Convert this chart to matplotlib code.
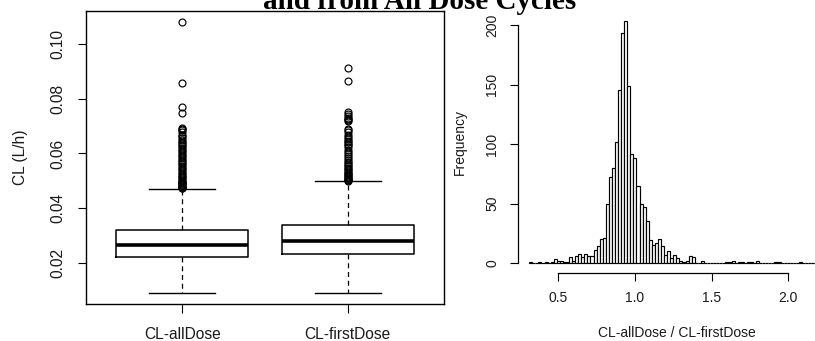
import numpy as np
import matplotlib
matplotlib.use("Agg")
import matplotlib.pyplot as plt

plt.rcParams['font.family'] = ['Liberation Sans', 'DejaVu Sans']

# box plot summaries (CL, L/h)
groups = ["CL-allDose", "CL-firstDose"]
med = [0.0266, 0.0281]
q1 = [0.0222, 0.0233]
q3 = [0.0320, 0.0341]
whis_lo = [0.0091, 0.0091]
whis_hi = [0.0470, 0.0499]
fliers_all = [0.1078, 0.0856, 0.0769, 0.0749, 0.0692, 0.0688, 0.0684, 0.0680,
              0.0668, 0.0662, 0.0655, 0.0648, 0.0642, 0.0638, 0.0632, 0.0626,
              0.0620, 0.0614, 0.0608, 0.0602, 0.0596, 0.0590, 0.0584, 0.0578,
              0.0572, 0.0566, 0.0560, 0.0555, 0.0548, 0.0542, 0.0536, 0.0530,
              0.0524, 0.0519, 0.0514, 0.0509, 0.0505, 0.0501, 0.0497, 0.0494,
              0.0491, 0.0488, 0.0485, 0.0482, 0.0479, 0.0477, 0.0475, 0.0473]
fliers_first = [0.0910, 0.0864, 0.0752, 0.0745, 0.0738, 0.0731, 0.0726, 0.0722,
                0.0718, 0.0690, 0.0684, 0.0678, 0.0668, 0.0660, 0.0652, 0.0646,
                0.0641, 0.0636, 0.0630, 0.0622, 0.0612, 0.0605, 0.0598, 0.0590,
                0.0582, 0.0576, 0.0570, 0.0564, 0.0558, 0.0553, 0.0548, 0.0543,
                0.0538, 0.0533, 0.0529, 0.0525, 0.0521, 0.0517, 0.0513, 0.0510,
                0.0507, 0.0504, 0.0502, 0.0500]

# histogram of CL-allDose / CL-firstDose, bins of 0.02 starting at 0.31
bin_start = 0.31
bin_width = 0.02
counts = [1, 0, 0, 1, 0, 1, 0, 1, 3, 2,
          2, 1, 1, 5, 2, 6, 8, 5, 8, 6,
          6, 11, 14, 20, 21, 50, 72, 80, 102, 146,
          194, 204, 149, 92, 88, 65, 50, 47, 35, 19,
          15, 17, 20, 14, 7, 10, 4, 7, 4, 2,
          1, 2, 6, 5, 0, 0, 2, 0, 0, 0,
          0, 0, 0, 0, 1, 1, 2, 0, 1, 1,
          0, 1, 1, 0, 2, 0, 0, 0, 0, 0,
          1, 1, 0, 0, 0, 0, 0, 0, 1, 0,
          0, 0, 0, 0]
hist_xticks = [0.5, 1.0, 1.5, 2.0]
hist_yticks = [0, 50, 100, 150, 200]

W, H = 815, 341
fig = plt.figure(figsize=(W / 100, H / 100), dpi=100)
txt = '#1a1a1a'
fs_left = 11.2
fs_right = 10

# ---- left: boxplot
ax1 = fig.add_axes([86 / W, 1 - 304 / H, 358 / W, 293 / H])
stats = []
for i in range(len(groups)):
    stats.append(dict(med=med[i], q1=q1[i], q3=q3[i], whislo=whis_lo[i],
                      whishi=whis_hi[i],
                      fliers=[fliers_all, fliers_first][i]))
ax1.bxp(stats, positions=[1, 2], widths=0.8, capwidths=0.4,
        boxprops=dict(color='black', lw=1.1),
        medianprops=dict(color='black', lw=2.6, solid_capstyle='butt'),
        whiskerprops=dict(color='black', lw=0.9, ls=(0, (4, 3))),
        capprops=dict(color='black', lw=1.0),
        flierprops=dict(marker='o', markerfacecolor='none', markeredgecolor='black',
                        markersize=5.0, markeredgewidth=0.85))
ax1.set_xlim(0.42, 2.58)
ax1.set_ylim(0.00517, 0.1119)
ax1.set_yticks([0.02, 0.04, 0.06, 0.08, 0.10])
ax1.set_yticklabels(['0.02', '0.04', '0.06', '0.08', '0.10'], rotation=90,
                    va='center', color=txt, fontsize=fs_left)
ax1.set_xticks([1, 2])
ax1.set_xticklabels(groups, color=txt, fontsize=fs_left)
ax1.tick_params(axis='y', length=6, width=0.8, pad=8.5)
ax1.tick_params(axis='x', length=6.5, width=0.8, pad=10)
for s in ax1.spines.values():
    s.set_linewidth(1.0)
fig.text(21 / W, 1 - 157 / H, 'CL (L/h)', rotation=90, ha='center', va='center',
         fontsize=fs_left, color=txt)

# ---- right: histogram
nb = len(counts)
edges = bin_start + bin_width * np.arange(nb + 1)
lo, hi = edges[0], edges[-1]
pad = 0.04 * (hi - lo)
x0 = 558.3 + (lo - pad - 0.5) * 153.3
x1 = 558.3 + (hi + pad - 0.5) * 153.3
ax2 = fig.add_axes([x0 / W, 1 - 272.7 / H, (x1 - x0) / W, 261.7 / H])
ax2.bar(edges[:-1], counts, width=bin_width, align='edge', facecolor='white',
        edgecolor='black', linewidth=0.85)
ax2.set_xlim(lo - pad, hi + pad)
ymax = max(counts)
ax2.set_ylim(-0.04 * ymax, 1.04 * ymax)
ax2.spines['top'].set_visible(False)
ax2.spines['right'].set_visible(False)
ax2.spines['left'].set_bounds(hist_yticks[0], hist_yticks[-1])
ax2.spines['bottom'].set_bounds(hist_xticks[0], hist_xticks[-1])
ax2.set_xticks(hist_xticks)
ax2.set_xticklabels(['0.5', '1.0', '1.5', '2.0'], color=txt, fontsize=fs_right)
ax2.set_yticks(hist_yticks)
ax2.set_yticklabels([str(v) for v in hist_yticks], rotation=90, va='center',
                    color=txt, fontsize=fs_right)
ax2.tick_params(axis='y', length=5.5, width=0.8, pad=7.7)
ax2.tick_params(axis='x', length=6, width=0.8, pad=7)
for s in ax2.spines.values():
    s.set_linewidth(0.9)
fig.text(460 / W, 1 - 142 / H, 'Frequency', rotation=90, ha='center', va='center',
         fontsize=fs_right, color=txt)
fig.text(677 / W, 1 - 333 / H, 'CL-allDose / CL-firstDose', ha='center', va='center',
         fontsize=fs_right, color=txt)

# title, cut off at the top edge as in the source
fig.text(420 / W, 1 - 9 / H, 'and from All Dose Cycles', ha='center', va='baseline',
         fontsize=21, fontweight='bold', family=['Liberation Serif', 'DejaVu Serif'])

fig.savefig('out.png', dpi=100)
